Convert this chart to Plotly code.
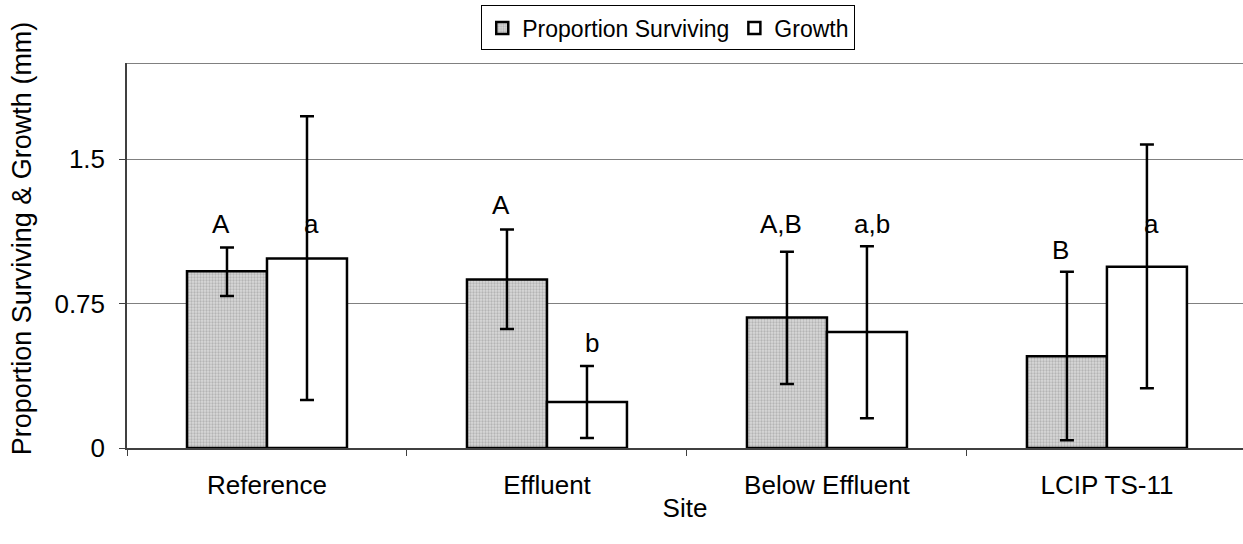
import plotly.graph_objects as go

sites = ["Reference", "Effluent", "Below Effluent", "LCIP TS-11"]

surv_mean = [0.918, 0.875, 0.678, 0.477]
surv_upper = [1.041, 1.135, 1.019, 0.915]
surv_lower = [0.790, 0.618, 0.332, 0.040]

growth_mean = [0.984, 0.239, 0.602, 0.941]
growth_upper = [1.723, 0.426, 1.048, 1.576]
growth_lower = [0.249, 0.052, 0.154, 0.310]

surv_letters = ["A", "A", "A,B", "B"]
surv_letter_y = [1.162, 1.261, 1.162, 1.027]
growth_letters = ["a", "b", "a,b", "a"]
growth_letter_y = [1.162, 0.545, 1.162, 1.166]

FONT = "Liberation Sans, Arial, sans-serif"
FS = 26

fig = go.Figure()

fig.add_trace(go.Bar(
    x=sites,
    y=surv_mean,
    name="Proportion Surviving",
    marker=dict(
        color="#d0d0d0",
        line=dict(color="black", width=2.5),
        pattern=dict(shape=".", fgcolor="#909090", bgcolor="#d8d8d8", size=3, solidity=0.45),
    ),
    error_y=dict(
        type="data",
        array=[u - m for u, m in zip(surv_upper, surv_mean)],
        arrayminus=[m - l for m, l in zip(surv_mean, surv_lower)],
        color="black", thickness=2.5, width=7,
    ),
))

fig.add_trace(go.Bar(
    x=sites,
    y=growth_mean,
    name="Growth",
    marker=dict(color="white", line=dict(color="black", width=2.5)),
    error_y=dict(
        type="data",
        array=[u - m for u, m in zip(growth_upper, growth_mean)],
        arrayminus=[m - l for m, l in zip(growth_mean, growth_lower)],
        color="black", thickness=2.5, width=7,
    ),
))

# significance letters
for i in range(len(sites)):
    fig.add_annotation(x=i - 0.165, y=surv_letter_y[i], text=surv_letters[i],
                       showarrow=False, font=dict(size=FS, color="black"))
    fig.add_annotation(x=i + 0.16, y=growth_letter_y[i], text=growth_letters[i],
                       showarrow=False, font=dict(size=FS, color="black"))

# y axis title (sits a little above the axis centre in the original)
fig.add_annotation(xref="paper", yref="paper", x=-0.094, y=0.545,
                   text="Proportion Surviving & Growth (mm)", textangle=-90,
                   showarrow=False, xanchor="center", yanchor="middle",
                   font=dict(size=27, color="black"))

# top border of plot area
fig.add_shape(type="line", xref="paper", yref="y", x0=0, x1=1, y0=2, y1=2,
              line=dict(color="#808080", width=2))

fig.update_layout(
    width=1243,
    height=544,
    margin=dict(l=127, r=0, t=63, b=96, autoexpand=False),
    paper_bgcolor="white",
    plot_bgcolor="white",
    font=dict(family=FONT, size=FS, color="black"),
    barmode="group",
    bargap=0.4286,
    bargroupgap=0,
    showlegend=True,
    legend=dict(
        orientation="h",
        x=0.485, xanchor="center",
        y=0.99, yanchor="top",
        yref="container",
        bordercolor="black", borderwidth=1,
        bgcolor="white",
        font=dict(size=23),
        itemwidth=30,
        tracegroupgap=0,
    ),
    xaxis=dict(
        range=[-0.5, 3.486],
        automargin=False,
        title=dict(text="Site", font=dict(size=FS), standoff=0),
        showline=True, linecolor="#404040", linewidth=2,
        ticks="outside", tickson="boundaries", ticklen=6, tickcolor="#404040",
        ticklabelstandoff=13,
        showgrid=False,
    ),
    yaxis=dict(
        range=[0, 2],
        automargin=False,
        tickvals=[0, 0.75, 1.5],
        ticktext=["0", "0.75", "1.5"],
        showline=True, linecolor="#404040", linewidth=1.5,
        ticks="outside", ticklen=6, tickcolor="#404040",
        ticklabelstandoff=9,
        showgrid=True, gridcolor="#808080", gridwidth=1,
        zeroline=False,
    ),
)

fig.write_html("out.html", config={"displayModeBar": False},
               post_script="document.body.style.margin='0';")
